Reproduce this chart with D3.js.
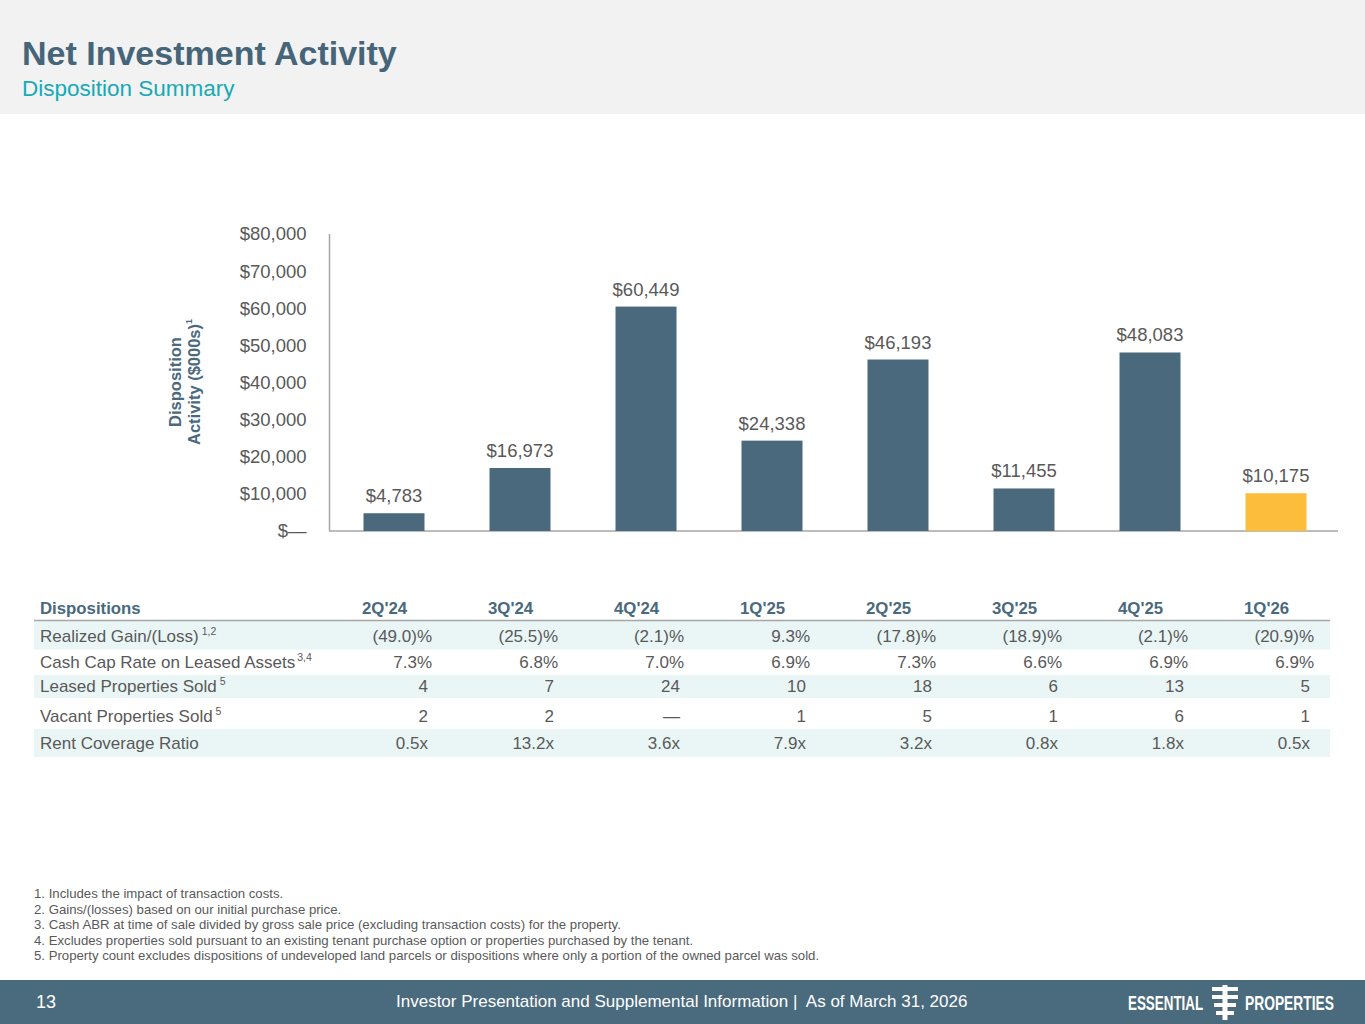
<!DOCTYPE html>
<html><head><meta charset="utf-8">
<script src="https://cdn.jsdelivr.net/npm/d3@7"></script>
<style>
html,body{margin:0;padding:0;background:#fff;}
svg{display:block;font-family:"Liberation Sans",Arial,sans-serif;}
</style></head>
<body>
<svg id="chart" width="1365" height="1024"></svg>
<script>
// ---- data ----
const quarters = ["2Q'24","3Q'24","4Q'24","1Q'25","2Q'25","3Q'25","4Q'25","1Q'26"];
const dispositionActivity = [4783, 16973, 60449, 24338, 46193, 11455, 48083, 10175];
const yTicks = [0, 10000, 20000, 30000, 40000, 50000, 60000, 70000, 80000];
const realizedGain = [-49.0, -25.5, -2.1, 9.3, -17.8, -18.9, -2.1, -20.9];
const cashCapRate = [7.3, 6.8, 7.0, 6.9, 7.3, 6.6, 6.9, 6.9];
const leasedSold = [4, 7, 24, 10, 18, 6, 13, 5];
const vacantSold = [2, 2, null, 1, 5, 1, 6, 1];
const rentCoverage = [0.5, 13.2, 3.6, 7.9, 3.2, 0.8, 1.8, 0.5];
const rowLabels = ["Realized Gain/(Loss)", "Cash Cap Rate on Leased Assets", "Leased Properties Sold", "Vacant Properties Sold", "Rent Coverage Ratio"];
const rowNotes = [" 1,2", "3,4", " 5", " 5", ""];
const footnotes = [
  "1. Includes the impact of transaction costs.",
  "2. Gains/(losses) based on our initial purchase price.",
  "3. Cash ABR at time of sale divided by gross sale price (excluding transaction costs) for the property.",
  "4. Excludes properties sold pursuant to an existing tenant purchase option or properties purchased by the tenant.",
  "5. Property count excludes dispositions of undeveloped land parcels or dispositions where only a portion of the owned parcel was sold."
];

// ---- drawing ----
const svg = d3.select("#chart");
const slate = "#4a697d", grayText = "#595959", teal = "#17a9b4";

// header band
svg.append("rect").attr("x",0).attr("y",0).attr("width",1365).attr("height",114).attr("fill","#f2f2f2");
svg.append("text").attr("x",22).attr("y",65).attr("font-size",34).attr("font-weight","bold").attr("fill","#466579").text("Net Investment Activity");
svg.append("text").attr("x",22).attr("y",96).attr("font-size",22.5).attr("fill",teal).text("Disposition Summary");

// scales
const x = d3.scaleBand().domain(quarters).range([331,1339]).paddingInner(0.516).paddingOuter(0.258);
const y = d3.scaleLinear().domain([0,80000]).range([531,234]);
const fmtComma = d3.format(",");

// y axis
const yAxis = d3.axisLeft(y).tickValues(yTicks).tickSize(0).tickPadding(23)
  .tickFormat(d => d === 0 ? "$\u2014" : "$" + fmtComma(d));
const gy = svg.append("g").attr("transform","translate(329.5,0)").call(yAxis);
gy.select(".domain").attr("stroke","#a6a6a6").attr("stroke-width",1.5).attr("d","M0,234V531");
gy.selectAll("text").attr("font-size",18.5).attr("fill",grayText).attr("font-family","Liberation Sans, Arial, sans-serif");

// baseline
svg.append("line").attr("x1",329).attr("x2",1338).attr("y1",y(0)).attr("y2",y(0)).attr("stroke","#a6a6a6").attr("stroke-width",1.5);

// bars
svg.append("g").selectAll("rect").data(dispositionActivity).join("rect")
  .attr("x",(d,i)=>x(quarters[i])).attr("width",x.bandwidth())
  .attr("y",d=>y(d)).attr("height",d=>y(0)-y(d))
  .attr("fill",(d,i)=> i === quarters.length-1 ? "#fbbd3b" : slate);

// value labels
svg.append("g").selectAll("text").data(dispositionActivity).join("text")
  .attr("x",(d,i)=>x(quarters[i]) + x.bandwidth()/2).attr("y",d=>y(d)-11)
  .attr("text-anchor","middle").attr("font-size",18.5).attr("fill",grayText)
  .text(d=>"$" + fmtComma(d));

// y axis title
const yt = svg.append("g").attr("transform","translate(0,382) rotate(-90)");
yt.append("text").attr("x",0).attr("y",181).attr("text-anchor","middle").attr("font-size",16.5).attr("font-weight","bold").attr("fill",slate).text("Disposition");
const yt2 = yt.append("text").attr("x",0).attr("y",199.5).attr("text-anchor","middle").attr("font-size",16.5).attr("font-weight","bold").attr("fill",slate);
yt2.append("tspan").text("Activity ($000s)");
yt2.append("tspan").attr("font-size",9).attr("dy",-8).text("1");

// ---- table ----
const tbl = svg.append("g");
const bands = [[620.5,649.5],[675,698],[729,757]];
tbl.selectAll("rect.band").data(bands).join("rect").attr("class","band")
  .attr("x",34).attr("width",1296).attr("y",d=>d[0]).attr("height",d=>d[1]-d[0]).attr("fill","#eaf6f6");
tbl.append("line").attr("x1",34).attr("x2",1330).attr("y1",620.5).attr("y2",620.5).attr("stroke","#a6a6a6").attr("stroke-width",1.5);

tbl.append("text").attr("x",40).attr("y",614).attr("font-size",16.8).attr("font-weight","bold").attr("fill",slate).text("Dispositions");
tbl.selectAll("text.qh").data(quarters).join("text").attr("class","qh")
  .attr("x",d=>x(d)+x.bandwidth()/2 - 32).attr("y",614).attr("font-size",16.8).attr("font-weight","bold").attr("fill",slate).text(d=>d);

const pct = v => v < 0 ? "(" + d3.format(".1f")(-v) + ")%" : d3.format(".1f")(v) + "%";
const rows = [
  realizedGain.map(pct),
  cashCapRate.map(v => d3.format(".1f")(v) + "%"),
  leasedSold.map(v => String(v)),
  vacantSold.map(v => v == null ? "\u2014" : String(v)),
  rentCoverage.map(v => d3.format(".1f")(v) + "x")
];
const rowBase = [642, 668, 692, 722, 749];
const rowRightOff = [38, 38, 34, 34, 34];
rows.forEach((vals, r) => {
  const lt = tbl.append("text").attr("x",40).attr("y",rowBase[r]).attr("font-size",17).attr("fill",grayText);
  lt.append("tspan").text(rowLabels[r]);
  if (rowNotes[r]) lt.append("tspan").attr("font-size",10.5).attr("dy",-7).attr("dx",r===1?2:0).text(rowNotes[r]);
  tbl.append("g").selectAll("text").data(vals).join("text")
    .attr("x",(d,i)=>x(quarters[i]) + x.bandwidth()/2 + rowRightOff[r]).attr("y",rowBase[r])
    .attr("text-anchor","end").attr("font-size",17).attr("fill",grayText).text(d=>d);
});

// ---- footnotes ----
svg.append("g").selectAll("text").data(footnotes).join("text")
  .attr("x",34).attr("y",(d,i)=>898 + i*15.5).attr("font-size",13.2).attr("fill",grayText).text(d=>d);

// ---- footer ----
svg.append("rect").attr("x",0).attr("y",980).attr("width",1365).attr("height",44).attr("fill","#4a6a7e");
svg.append("text").attr("x",36).attr("y",1008).attr("font-size",18).attr("fill","#fff").text("13");
svg.append("text").attr("x",396).attr("y",1007).attr("font-size",17).attr("fill","#fff").attr("xml:space","preserve")
  .text("Investor Presentation and Supplemental Information |  As of March 31, 2026");
const logo = svg.append("g").attr("fill","#fff");
logo.append("text").attr("transform","translate(1128,1010) scale(0.67,1)").attr("font-size",20).attr("font-weight","bold")
  .text("ESSENTIAL");
logo.append("text").attr("transform","translate(1245,1010) scale(0.69,1)").attr("font-size",20).attr("font-weight","bold")
  .text("PROPERTIES");
logo.append("rect").attr("x",1222.5).attr("y",985).attr("width",5).attr("height",35);
[[1212,1238,987],[1212,1238,995],[1214,1236,1003],[1216,1234,1011]].forEach(b=>{
  logo.append("rect").attr("x",b[0]).attr("y",b[2]).attr("width",b[1]-b[0]).attr("height",4);
});
</script>
</body></html>
